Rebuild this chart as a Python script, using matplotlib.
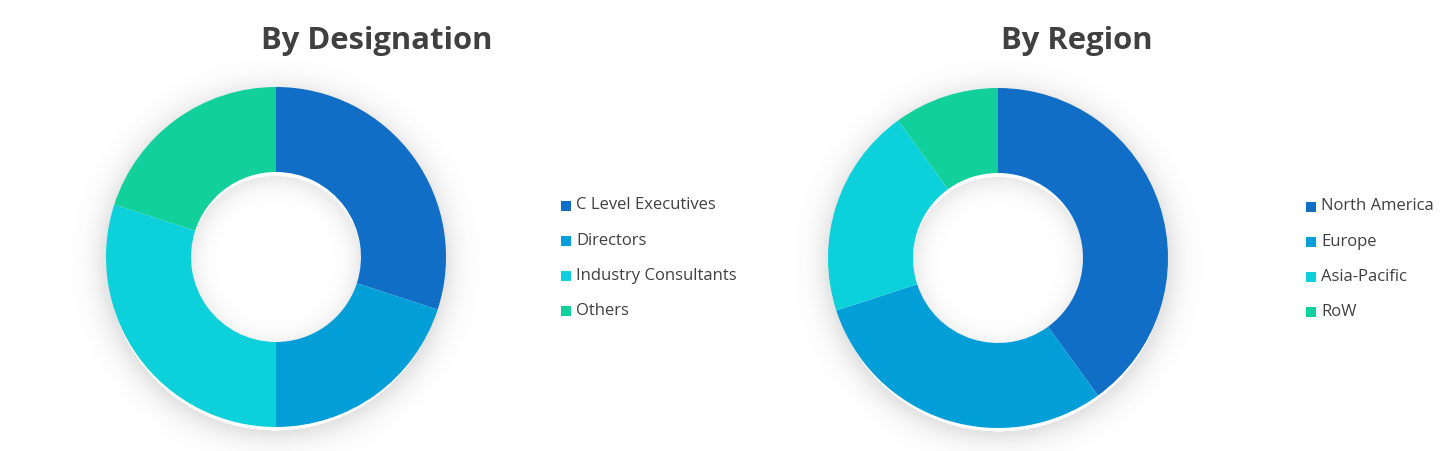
import matplotlib.pyplot as plt
from matplotlib.patches import Rectangle
import numpy as np

# ------------------------------------------------------------------
# Data
# ------------------------------------------------------------------
designation_labels = ['C Level Executives', 'Directors', 'Industry Consultants', 'Others']
designation_share = [30, 20, 30, 20]

region_labels = ['North America', 'Europe', 'Asia-Pacific', 'RoW']
region_share = [40, 30, 20, 10]

colors = ['#106EC6', '#029ED8', '#0CD0DA', '#12D09B']

W, H = 1454, 451
R_PX = 170.0   # outer radius in pixels
LIM = 1.25

plt.rcParams['font.family'] = ['Open Sans', 'DejaVu Sans']
fig = plt.figure(figsize=(W / 100, H / 100), dpi=100)
fig.patch.set_facecolor('white')


def shadow(ax):
    # soft drop shadow round the ring and inside the hole
    n = 500
    g = np.linspace(-LIM, LIM, n)
    xx, yy = np.meshgrid(g, g)
    r = np.hypot(xx, yy + 0.035)
    a = np.zeros_like(r)
    out = r > 0.99
    a[out] = 0.16 * np.exp(-((r[out] - 0.99) / 0.085) ** 1.3)
    inn = r < 0.51
    a[inn] = 0.12 * np.exp(-((0.51 - r[inn]) / 0.07) ** 1.3)
    img = np.zeros((n, n, 4))
    img[..., :3] = 0.3
    img[..., 3] = a
    ax.imshow(img, extent=(-LIM, LIM, -LIM, LIM), origin='lower', zorder=0,
              interpolation='bilinear')


def donut(cx, cy, values, title, title_x):
    size = 2 * LIM * R_PX
    ax = fig.add_axes([(cx - size / 2) / W, (H - cy - size / 2) / H, size / W, size / H])
    shadow(ax)
    ax.pie(values, colors=colors, startangle=90, counterclock=False, radius=1.0,
           wedgeprops=dict(width=0.5, edgecolor='none', linewidth=0))
    ax.set_xlim(-LIM, LIM)
    ax.set_ylim(-LIM, LIM)
    ax.set_aspect('equal')
    ax.axis('off')
    fig.text(title_x / W, 1 - 41 / H, title, ha='center', va='center',
             fontsize=22.3, fontweight='bold', color='#404040')


def legend(x, y0, labels):
    for i, lab in enumerate(labels):
        y = y0 + i * 35.3
        fig.patches.append(Rectangle(((x) / W, 1 - (y + 5) / H), 10 / W, 10 / H,
                                     transform=fig.transFigure, facecolor=colors[i],
                                     edgecolor='none'))
        fig.text((x + 15) / W, 1 - y / H, lab, ha='left', va='center',
                 fontsize=12, color='#404040')


donut(276, 257, designation_share, 'By Designation', 377)
legend(561, 205.5, designation_labels)

donut(998, 258, region_share, 'By Region', 1077)
legend(1306, 206.5, region_labels)

fig.savefig('out.png', dpi=100, facecolor='white')
